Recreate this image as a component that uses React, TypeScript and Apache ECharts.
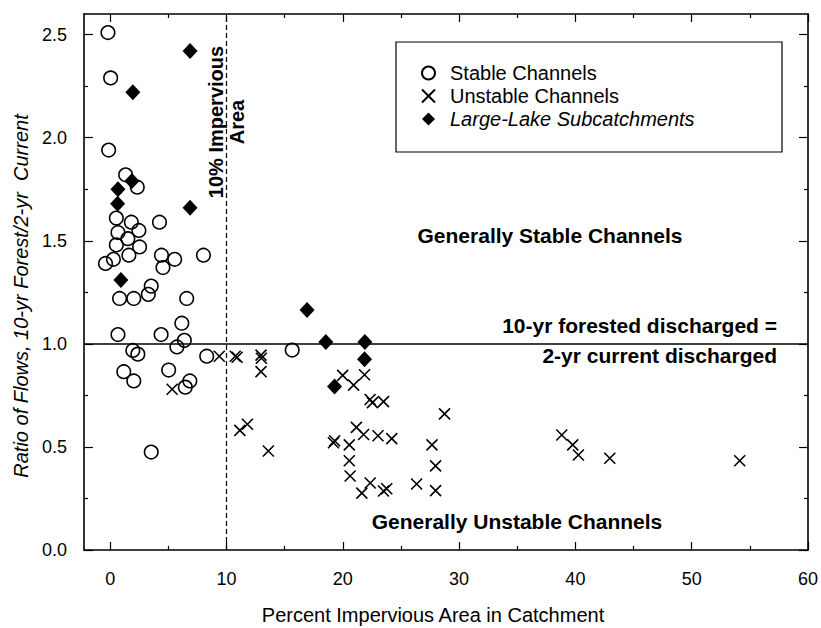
import React, { useEffect, useRef } from "react";
import * as echarts from "echarts";

// Percent impervious area (x) vs ratio of flows (y)
const stableChannels: [number, number][] = [
  [-0.19, 2.51], [0.04, 2.29], [-0.13, 1.94], [1.33, 1.82], [2.33, 1.76],
  [0.53, 1.61], [1.82, 1.59], [4.24, 1.59], [0.67, 1.54], [2.47, 1.55],
  [1.52, 1.51], [0.53, 1.48], [2.53, 1.47], [1.61, 1.43], [0.28, 1.41],
  [-0.4, 1.39], [4.41, 1.43], [5.55, 1.41], [4.54, 1.37], [8.02, 1.43],
  [3.53, 1.28], [3.28, 1.24], [0.81, 1.22], [2.03, 1.22], [6.58, 1.22],
  [6.16, 1.1], [0.67, 1.045], [4.38, 1.045], [6.38, 1.017], [5.74, 0.985],
  [1.95, 0.968], [2.38, 0.95], [8.3, 0.94], [15.65, 0.97], [1.17, 0.865],
  [2.03, 0.82], [5.03, 0.873], [6.85, 0.82], [6.46, 0.79], [3.53, 0.475],
];

const unstableChannels: [number, number][] = [
  [9.38, 0.94], [10.75, 0.94], [10.92, 0.935], [12.97, 0.945], [13.0, 0.93],
  [12.97, 0.865], [5.33, 0.78], [11.15, 0.58], [11.8, 0.61], [13.6, 0.48],
  [19.99, 0.847], [20.93, 0.8], [21.87, 0.85], [22.35, 0.73], [22.55, 0.715],
  [23.5, 0.72], [28.75, 0.66], [21.17, 0.595], [21.79, 0.56], [23.03, 0.554],
  [24.21, 0.54], [19.2, 0.52], [19.3, 0.53], [20.56, 0.51], [27.67, 0.51],
  [20.56, 0.433], [27.98, 0.408], [20.63, 0.359], [22.36, 0.325], [21.64, 0.276],
  [23.5, 0.286], [23.78, 0.297], [26.35, 0.32], [27.98, 0.288], [38.83, 0.558],
  [39.77, 0.51], [40.26, 0.461], [42.96, 0.445], [54.13, 0.433],
];

const largeLakeSubcatchments: [number, number][] = [
  [6.87, 2.42], [1.95, 2.22], [1.87, 1.79], [0.67, 1.75], [0.64, 1.68],
  [6.87, 1.66], [0.92, 1.31], [16.93, 1.164], [18.54, 1.009], [21.9, 1.009],
  [21.87, 0.925], [19.29, 0.793],
];

const seriesNames = ["Stable Channels", "Unstable Channels", "Large-Lake Subcatchments"];

const xMajorTicks = [0, 10, 20, 30, 40, 50, 60];
const xMinorTicks = [5, 15, 25, 35, 45, 55];
const yMajorTicks = [0, 0.5, 1.0, 1.5, 2.0, 2.5];
const yMinorTicks = [0.25, 0.75, 1.25, 1.75, 2.25];

const xRange = [-2.25, 60];
const yRange = [0, 2.6];

const imperviousThreshold = 10;
const equalRatio = 1.0;

const FONT = "'Liberation Sans', Arial, Helvetica, sans-serif";
const BLACK = "#000";

function makeAxis(
  kind: "x" | "y",
  position: string,
  ticks: number[],
  length: number,
  labels: boolean,
  showLine: boolean
) {
  const range = kind === "x" ? xRange : yRange;
  return {
    type: "value",
    position,
    min: range[0],
    max: range[1],
    axisLine: { show: showLine, onZero: false, lineStyle: { color: BLACK, width: 1.6 } },
    axisTick: {
      show: true,
      inside: true,
      length,
      customValues: ticks,
      lineStyle: { color: BLACK, width: 1.2 },
    },
    axisLabel: labels
      ? {
          show: true,
          customValues: ticks,
          fontSize: 18,
          color: BLACK,
          fontFamily: FONT,
          margin: kind === "x" ? 20 : 17,
          formatter: (v: number) => (kind === "y" ? v.toFixed(1) : String(v)),
        }
      : { show: false },
    splitLine: { show: false },
  };
}

export default function App() {
  const ref = useRef<HTMLDivElement>(null);

  useEffect(() => {
    document.body.style.margin = "0";
    const chart = echarts.init(ref.current!, null, { renderer: "svg" });

    const option = {
      animation: false,
      backgroundColor: "#fff",
      grid: { left: 84, right: 11, top: 14, bottom: 78, containLabel: false },
      xAxis: [
        makeAxis("x", "bottom", xMajorTicks, 8, true, true),
        makeAxis("x", "bottom", xMinorTicks, 4, false, false),
        makeAxis("x", "top", xMajorTicks, 8, false, true),
        makeAxis("x", "top", xMinorTicks, 4, false, false),
      ],
      yAxis: [
        makeAxis("y", "left", yMajorTicks, 9, true, true),
        makeAxis("y", "left", yMinorTicks, 4, false, false),
        makeAxis("y", "right", yMajorTicks, 9, false, true),
        makeAxis("y", "right", yMinorTicks, 4, false, false),
      ],
      legend: {
        orient: "vertical",
        left: 416,
        top: 58,
        itemWidth: 13,
        itemHeight: 13,
        itemGap: 3,
        data: seriesNames,
        formatter: (name: string) =>
          name === "Large-Lake Subcatchments" ? `{it|${name}}` : `{rg|${name}}`,
        textStyle: {
          color: BLACK,
          fontFamily: FONT,
          fontSize: 20,
          rich: {
            rg: { fontSize: 20, fontFamily: FONT, color: BLACK, padding: [0, 0, 0, 10] },
            it: {
              fontSize: 20,
              fontFamily: FONT,
              color: BLACK,
              fontStyle: "italic",
              padding: [0, 0, 0, 10],
            },
          },
        },
      },
      series: [
        {
          name: seriesNames[0],
          type: "scatter",
          xAxisIndex: 0,
          yAxisIndex: 0,
          data: stableChannels,
          symbol: "circle",
          symbolSize: 13.5,
          itemStyle: { color: "rgba(0,0,0,0)", borderColor: BLACK, borderWidth: 1.6, opacity: 1 },
          markLine: {
            silent: true,
            symbol: "none",
            label: { show: false },
            data: [
              { xAxis: imperviousThreshold, lineStyle: { color: BLACK, width: 1.2, type: [5, 3], opacity: 1 } },
              { yAxis: equalRatio, lineStyle: { color: BLACK, width: 1.6, type: "solid", opacity: 1 } },
            ],
          },
        },
        {
          name: seriesNames[1],
          type: "scatter",
          xAxisIndex: 0,
          yAxisIndex: 0,
          data: unstableChannels,
          symbol: "path://M0,0L10,10M0,10L10,0",
          symbolSize: 11,
          itemStyle: { color: "rgba(0,0,0,0)", borderColor: BLACK, borderWidth: 1.6, opacity: 1 },
        },
        {
          name: seriesNames[2],
          type: "scatter",
          xAxisIndex: 0,
          yAxisIndex: 0,
          data: largeLakeSubcatchments,
          symbol: "diamond",
          symbolSize: [15, 16],
          itemStyle: { color: BLACK, opacity: 1 },
        },
      ],
      graphic: [
        {
          type: "rect",
          shape: { x: 396, y: 42, width: 386, height: 110 },
          style: { fill: "none", stroke: BLACK, lineWidth: 1.2 },
          z: 10,
        },
        {
          type: "text",
          x: 550,
          y: 235,
          style: {
            text: "Generally Stable Channels",
            fontFamily: FONT,
            fontSize: 21,
            fontWeight: "bold",
            fill: BLACK,
            align: "center",
            verticalAlign: "middle",
          },
        },
        {
          type: "text",
          x: 777,
          y: 325,
          style: {
            text: "10-yr forested discharged =",
            fontFamily: FONT,
            fontSize: 21,
            fontWeight: "bold",
            fill: BLACK,
            align: "right",
            verticalAlign: "middle",
          },
        },
        {
          type: "text",
          x: 777,
          y: 355,
          style: {
            text: "2-yr current discharged",
            fontFamily: FONT,
            fontSize: 21,
            fontWeight: "bold",
            fill: BLACK,
            align: "right",
            verticalAlign: "middle",
          },
        },
        {
          type: "text",
          x: 517,
          y: 521,
          style: {
            text: "Generally Unstable Channels",
            fontFamily: FONT,
            fontSize: 21,
            fontWeight: "bold",
            fill: BLACK,
            align: "center",
            verticalAlign: "middle",
          },
        },
        {
          type: "text",
          x: 226,
          y: 122,
          rotation: Math.PI / 2,
          style: {
            text: "10% Impervious\nArea",
            fontFamily: FONT,
            fontSize: 20,
            lineHeight: 21,
            fontWeight: "bold",
            fill: BLACK,
            align: "center",
            verticalAlign: "middle",
          },
        },
        {
          type: "text",
          x: 21,
          y: 296,
          rotation: Math.PI / 2,
          style: {
            text: "Ratio of Flows, 10-yr Forest/2-yr  Current",
            fontFamily: FONT,
            fontSize: 20,
            fontStyle: "italic",
            fill: BLACK,
            align: "center",
            verticalAlign: "middle",
          },
        },
        {
          type: "text",
          x: 433,
          y: 615,
          style: {
            text: "Percent Impervious Area in Catchment",
            fontFamily: FONT,
            fontSize: 20,
            fill: BLACK,
            align: "center",
            verticalAlign: "middle",
          },
        },
      ],
    };

    chart.setOption(option as any);
    return () => chart.dispose();
  }, []);

  return (
    <div
      ref={ref}
      style={{ position: "absolute", left: 0, top: 0, width: 821, height: 628, background: "#fff" }}
    />
  );
}
